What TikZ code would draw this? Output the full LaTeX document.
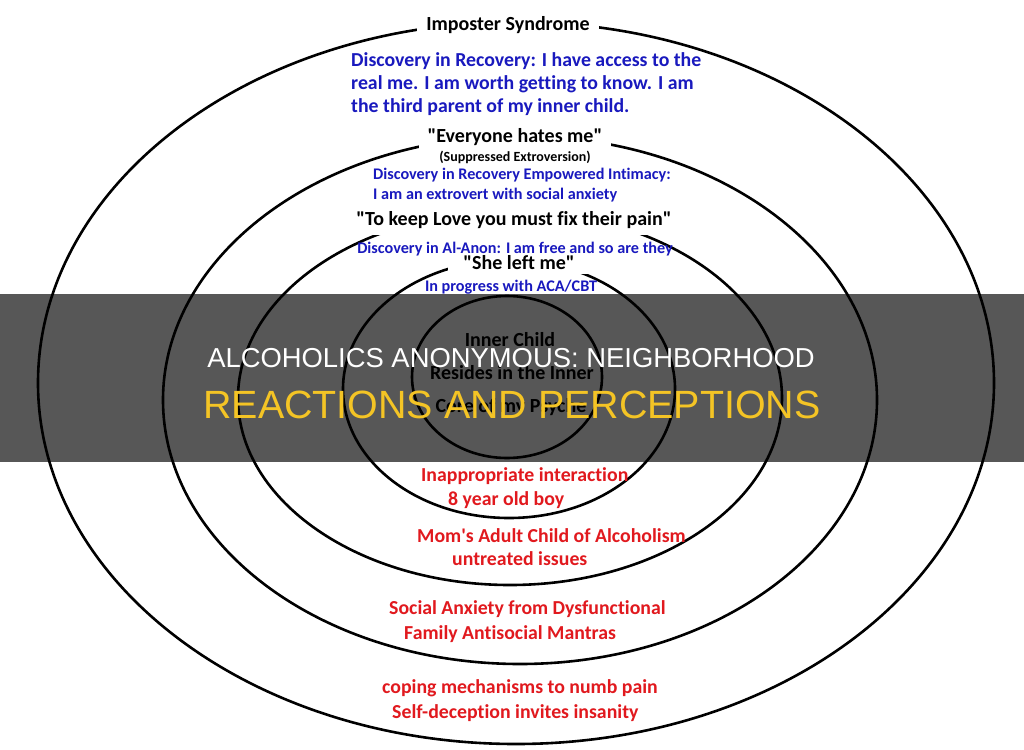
\documentclass[tikz,border=0pt]{standalone}
\usepackage{fontspec}
\setmainfont{Carlito}[Ligatures={TeXOff,NoCommon}]
\newfontfamily\titlefont{Liberation Sans}
\definecolor{dblue}{RGB}{25,25,190}
\definecolor{dred}{RGB}{225,25,30}
\definecolor{ttlyellow}{RGB}{244,196,37}
\begin{document}
\begin{tikzpicture}[x=1pt,y=-1pt,
  ring/.style={line width=2.6pt, draw=black},
  blk/.style={font=\bfseries\fontsize{20}{24}\selectfont, text=black, fill=white, inner xsep=9pt, inner ysep=5pt, anchor=base},
  blksmall/.style={font=\bfseries\fontsize{14}{16}\selectfont, text=black, inner sep=0pt, anchor=base},
  bluebig/.style={font=\bfseries\fontsize{19.8}{22}\selectfont, text=dblue, inner sep=0pt, anchor=base west},
  bluesmall/.style={font=\bfseries\fontsize{16.2}{19}\selectfont, text=dblue, inner sep=0pt},
  redtxt/.style={font=\bfseries\fontsize{19.8}{22}\selectfont, text=dred, inner sep=0pt, anchor=base west},
  core/.style={font=\bfseries\fontsize{20}{24}\selectfont, text=black, inner sep=0pt, anchor=base},
  ttl/.style={inner sep=0pt}]
\useasboundingbox (0,0) rectangle (1024,749);
\fill[white] (0,0) rectangle (1024,749);
% rings
\draw[ring] (516,383) ellipse [x radius=478pt, y radius=361pt];
\draw[ring] (520,400) ellipse [x radius=357pt, y radius=264pt];
\draw[ring] (510,398) ellipse [x radius=272pt, y radius=187pt];
\draw[ring] (509,389) ellipse [x radius=166pt, y radius=129pt];
\draw[ring] (507,377) ellipse [x radius=95pt, y radius=81pt];
% black labels on white boxes
\node[blk] (imp) at (508,31) {Imposter Syndrome};
\node[blk] (eve) at (515,142) {"Everyone hates me"};
\node[blk, inner ysep=7pt] (keep) at (514,225) {"To keep Love you must fix their pain"};
\node[blk, inner xsep=15pt] (she) at (519,269) {"She left me"};
\node[blksmall] (sup) at (515,161) {(Suppressed Extroversion)};
% blue labels
\node[bluebig] (b1a) at (351,67) {Discovery in Recovery: I have access to the};
\node[bluebig] (b1b) at (351,90) {real me. I am worth getting to know. I am};
\node[bluebig] (b1c) at (351,113) {the third parent of my inner child.};
\node[bluesmall, anchor=base west] (b2a) at (373,179) {Discovery in Recovery Empowered Intimacy:};
\node[bluesmall, anchor=base west] (b2b) at (373,199) {I am an extrovert with social anxiety};
\node[bluesmall, anchor=base] (alanon) at (515,253) {Discovery in Al-Anon: I am free and so are they};
\node[bluesmall, anchor=base] (aca) at (511,291) {In progress with ACA/CBT};
% core
\node[core] (ic1) at (510,346) {Inner Child};
\node[core] (ic2) at (512,379) {Resides in the Inner};
\node[core] (ic3) at (511,412) {Core of my Psyche};
% bottom labels
\node[redtxt] (r1a) at (421,481) {Inappropriate interaction};
\node[redtxt] (r1b) at (448,505) {8 year old boy};
\node[redtxt] (r2a) at (417,542) {Mom's Adult Child of Alcoholism};
\node[redtxt] (r2b) at (452,565) {untreated issues};
\node[redtxt] (r3a) at (389,614) {Social Anxiety from Dysfunctional};
\node[redtxt] (r3b) at (404,639) {Family Antisocial Mantras};
\node[redtxt] (r4a) at (382,693) {coping mechanisms to numb pain};
\node[redtxt] (r4b) at (392,718) {Self-deception invites insanity};
% banner
\fill[black, fill opacity=0.66] (0,294) rectangle (1024,462);
\node[ttl, text=white, font=\titlefont\fontsize{27.4}{30}\selectfont] (t1) at (511,358) {ALCOHOLICS ANONYMOUS: NEIGHBORHOOD};
\node[ttl, text=ttlyellow, font=\titlefont\fontsize{39.4}{42}\selectfont] (t2) at (512,405) {REACTIONS AND PERCEPTIONS};
\end{tikzpicture}
\end{document}
